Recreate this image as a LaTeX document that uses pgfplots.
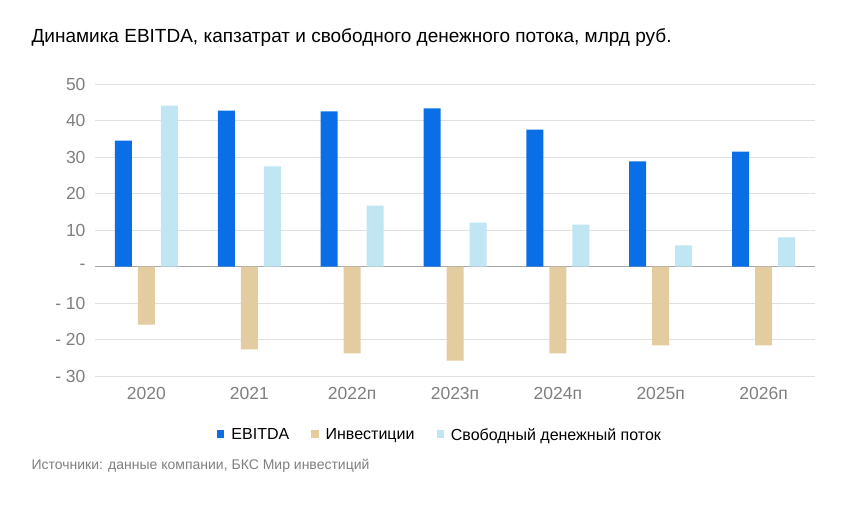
\documentclass[border=0pt]{standalone}
\usepackage{pgfplots}
\pgfplotsset{compat=1.18}
\usepackage{fontspec}
\setmainfont{Liberation Sans}
\definecolor{cE}{HTML}{0A6EE6}
\definecolor{cI}{HTML}{E3CDA0}
\definecolor{cF}{HTML}{BFE6F2}
\definecolor{tx}{HTML}{7F7F7F}
\begin{document}
\begin{tikzpicture}
\path[use as bounding box] (-95pt,-131pt) rectangle (756pt,376pt);
\begin{axis}[at={(0,0)},anchor=south west,scale only axis,width=720pt,height=292pt,
 ymin=-30,ymax=50,xmin=-0.5,xmax=6.5,
 ybar=6pt,bar width=17pt,
 axis line style={draw=none},
 ytick={-30,-20,...,50},
 yticklabels={- 30,- 20,- 10,-,10,20,30,40,50},
 xtick=data,xticklabels={2020,2021,2022п,2023п,2024п,2025п,2026п},
 major tick length=0pt,
 ymajorgrids,grid style={draw=black!12},
 tick label style={font=\fontsize{17.5}{20}\selectfont,text=tx},
 yticklabel style={xshift=-6pt},
 xticklabel style={yshift=-8pt},
 extra y ticks={0},extra y tick labels={},extra y tick style={grid style={draw=black!35}},
 legend style={at={(345pt,-59pt)},anchor=center,draw=none,legend columns=-1,font=\fontsize{16}{18}\selectfont,
   /tikz/every odd column/.append style={column sep=5pt},
   /tikz/every even column/.append style={column sep=20pt}},
 legend image code/.code={\fill[#1] (0cm,-0.12cm) rectangle (0.26cm,0.16cm);},
]
\addplot[fill=cE,draw=none] coordinates {(0,34.5)(1,42.7)(2,42.5)(3,43.3)(4,37.5)(5,28.8)(6,31.5)};
\addplot[fill=cI,draw=none] coordinates {(0,-15.9)(1,-22.7)(2,-23.8)(3,-25.8)(4,-23.8)(5,-21.6)(6,-21.6)};
\addplot[fill=cF,draw=none] coordinates {(0,44.1)(1,27.4)(2,16.7)(3,12)(4,11.5)(5,5.8)(6,8)};
\legend{EBITDA,Инвестиции,Свободный денежный поток}
\end{axis}
\node[anchor=west,font=\fontsize{19}{22}\selectfont] at (-67pt,338pt) {Динамика EBITDA, капзатрат и свободного денежного потока, млрд руб.};
\node[anchor=west,font=\fontsize{14}{16}\selectfont,text=tx] at (-67pt,-90pt) {Источники: данные компании, БКС Мир инвестиций};
\end{tikzpicture}
\end{document}
